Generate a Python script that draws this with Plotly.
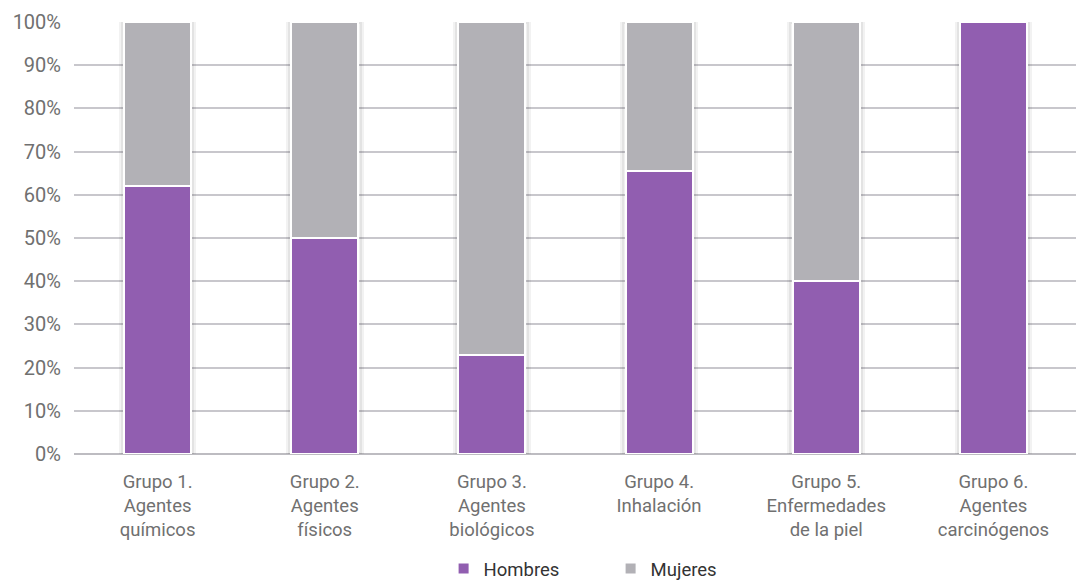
import plotly.graph_objects as go

categories = ["Grupo 1.<br>Agentes<br>químicos", "Grupo 2.<br>Agentes<br>físicos",
              "Grupo 3.<br>Agentes<br>biológicos", "Grupo 4.<br>Inhalación<br> ",
              "Grupo 5.<br>Enfermedades<br>de la piel", "Grupo 6.<br>Agentes<br>carcinógenos"]
hombres = [0.62, 0.50, 0.23, 0.655, 0.40, 1.00]
mujeres = [0.38, 0.50, 0.77, 0.345, 0.60, 0.00]
tick_vals = [0, 0.1, 0.2, 0.3, 0.4, 0.5, 0.6, 0.7, 0.8, 0.9, 1.0]
tick_text = ["0%", "10%", "20%", "30%", "40%", "50%", "60%", "70%", "80%", "90%", "100%"]

totals = [h + m for h, m in zip(hombres, mujeres)]

FONT = "Roboto"
fig = go.Figure()
# soft shadow behind bars (on base x axis, drawn below)
fig.add_trace(go.Bar(x=categories, y=totals, xaxis="x", yaxis="y", showlegend=False,
                     hoverinfo="skip", width=0.44,
                     marker=dict(color="rgba(0,0,0,0.06)",
                                 line=dict(color="rgba(0,0,0,0.05)", width=4))))
fig.add_trace(go.Bar(x=categories, y=hombres, name="Hombres", xaxis="x2", yaxis="y",
                     width=0.4,
                     marker=dict(color="#915EB0", line=dict(color="white", width=2))))
fig.add_trace(go.Bar(x=categories, y=mujeres, name="Mujeres", xaxis="x2", yaxis="y",
                     width=0.4,
                     marker=dict(color="#B2B1B6", line=dict(color="white", width=2))))

fig.update_layout(
    barmode="stack",
    width=1076, height=572,
    margin=dict(l=66, r=7, t=14, b=126, autoexpand=False),
    paper_bgcolor="white", plot_bgcolor="white",
    font=dict(family=FONT, size=18, color="#707070"),
    legend=dict(orientation="h", x=0.535, xanchor="center", y=-0.222, yanchor="top",
                font=dict(size=18.5, color="#333333"), entrywidth=122, traceorder="normal"),
    showlegend=True,
    xaxis=dict(showgrid=False, tickfont=dict(size=18.5, color="#707070"), ticks="",
               showline=False, automargin=False, ticklabelstandoff=14),
    xaxis2=dict(overlaying="x", matches="x", visible=False, showgrid=False),
    yaxis=dict(range=[0, 1.0], tickvals=tick_vals, ticktext=tick_text,
               showgrid=True, gridcolor="#C8C7CC", gridwidth=1.5,
               zeroline=True, zerolinecolor="#BDBCC1", zerolinewidth=2,
               tickfont=dict(size=20, color="#707070"), ticklabelstandoff=12,
               automargin=False),
)

fig.write_html("out.html")
